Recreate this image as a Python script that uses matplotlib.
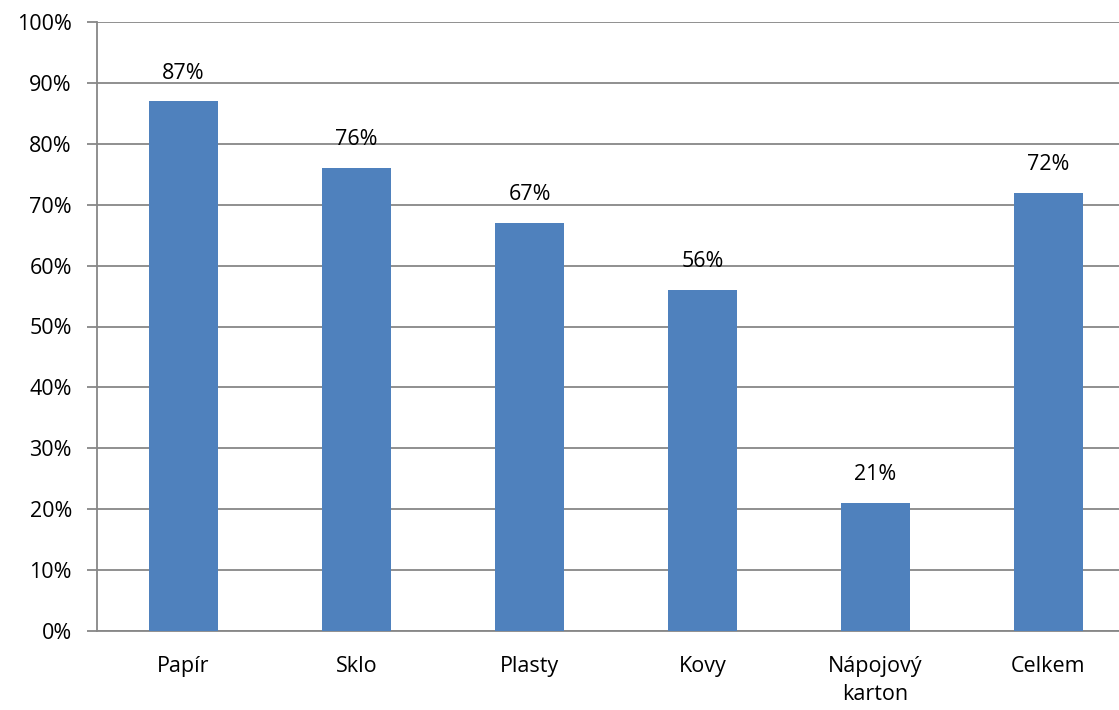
import matplotlib
matplotlib.use("Agg")
import matplotlib.pyplot as plt
from matplotlib.ticker import FuncFormatter, MultipleLocator

categories = ["Papír", "Sklo", "Plasty", "Kovy", "Nápojový\nkarton", "Celkem"]
values = [87, 76, 67, 56, 21, 72]

plt.rcParams["font.family"] = ["Open Sans", "DejaVu Sans"]

W, H = 1119, 710
FS = 15.5
fig = plt.figure(figsize=(W / 100, H / 100), dpi=100)
# plot area starts at x=97 and runs past the right edge of the canvas
ax = fig.add_axes([97 / W, (H - 631) / H, 1038 / W, (631 - 22) / H])

grid_color = "#878787"
x = range(len(categories))
bars = ax.bar(x, values, width=0.4, color="#4f81bd", zorder=3)
for rect, v in zip(bars, values):
    ax.text(rect.get_x() + rect.get_width() / 2, v + 2.9, f"{v}%",
            ha="center", va="bottom", fontsize=FS, color="#000000")

ax.set_xlim(-0.5, len(categories) - 0.5)
ax.set_ylim(0, 100)
ax.yaxis.set_major_locator(MultipleLocator(10))
ax.yaxis.set_major_formatter(FuncFormatter(lambda v, _: f"{v:.0f}%"))
ax.set_xticks(list(x))
ax.set_xticklabels(categories, fontsize=FS, linespacing=1.45)
ax.tick_params(axis="x", length=0, pad=18)
ax.tick_params(axis="y", length=7, width=1.3, color=grid_color, pad=11, labelsize=FS)

ax.grid(axis="y", color=grid_color, linewidth=1.3, zorder=0)
for side in ("top", "right"):
    ax.spines[side].set_visible(False)
for side in ("left", "bottom"):
    ax.spines[side].set_color(grid_color)
    ax.spines[side].set_linewidth(1.3)

fig.savefig("out.png", dpi=100)
